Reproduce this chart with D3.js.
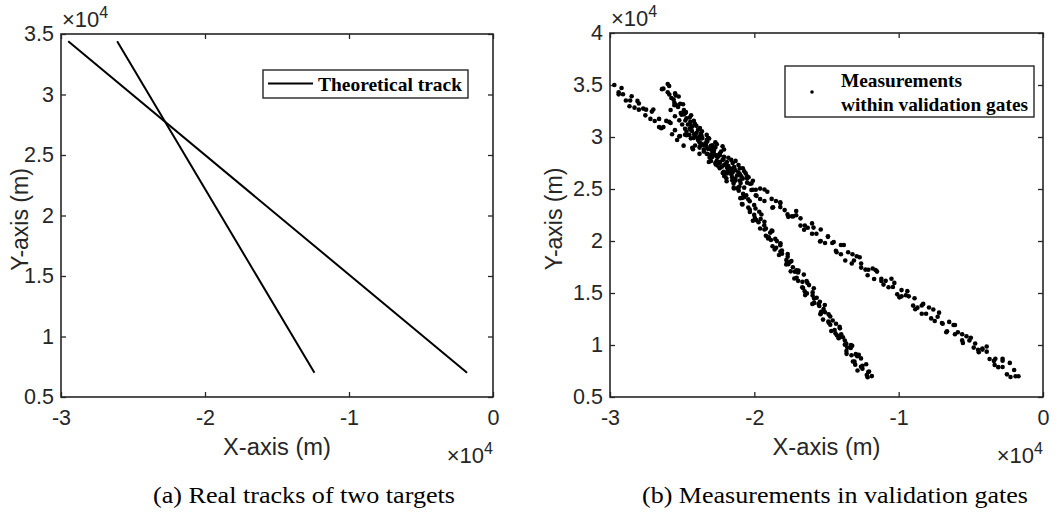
<!DOCTYPE html>
<html>
<head>
<meta charset="utf-8">
<script src="https://cdn.jsdelivr.net/npm/d3@7"></script>
<style>
  body { margin: 0; background: #fff; }
  .tick text { font-family: "Liberation Sans", Arial, sans-serif; font-size: 21.5px; fill: #262626; }
  .tick line { stroke: #262626; stroke-width: 1.3; }
  .domain { display: none; }
</style>
</head>
<body>
<div id="chart"></div>
<script>
// all positions in units of 10^4 m, as on the axes
const xTicks = [-3, -2, -1, 0];
const yTicksA = [0.5, 1, 1.5, 2, 2.5, 3, 3.5];
const yTicksB = [0.5, 1, 1.5, 2, 2.5, 3, 3.5, 4];

// (a) theoretical tracks, start / end points
const track1 = [[-2.95, 3.44], [-0.18, 0.70]];
const track2 = [[-2.61, 3.44], [-1.24, 0.70]];

// (b) measurements that fell inside the validation gates
const gateTrack1 = [
  [-2.970, 3.500], [-2.940, 3.410], [-2.940, 3.431], [-2.890, 3.351], [-2.910, 3.411], [-2.860, 3.351], [-2.850, 3.392],
  [-2.830, 3.282], [-2.800, 3.322], [-2.800, 3.263], [-2.750, 3.263], [-2.770, 3.273], [-2.720, 3.174], [-2.710, 3.244],
  [-2.690, 3.154], [-2.660, 3.174], [-2.660, 3.095], [-2.610, 3.155], [-2.630, 3.095], [-2.580, 3.135], [-2.570, 3.026],
  [-2.550, 3.066], [-2.520, 3.006], [-2.515, 3.010], [-2.470, 3.017], [-2.490, 2.917], [-2.440, 2.987], [-2.430, 2.897],
  [-2.410, 2.918], [-2.380, 2.838], [-2.380, 2.898], [-2.330, 2.839], [-2.350, 2.879], [-2.300, 2.769], [-2.290, 2.809],
  [-2.270, 2.750], [-2.240, 2.750], [-2.240, 2.760], [-2.190, 2.660], [-2.210, 2.731], [-2.160, 2.641], [-2.150, 2.661],
  [-2.130, 2.582], [-2.100, 2.642], [-2.100, 2.582], [-2.050, 2.622], [-2.070, 2.513], [-2.020, 2.553], [-2.010, 2.493],
  [-1.990, 2.493], [-1.960, 2.504], [-1.960, 2.404], [-1.910, 2.474], [-1.930, 2.384], [-1.880, 2.405], [-1.870, 2.325],
  [-1.850, 2.385], [-1.820, 2.326], [-1.820, 2.366], [-1.770, 2.256], [-1.790, 2.297], [-1.740, 2.237], [-1.730, 2.237],
  [-1.710, 2.247], [-1.680, 2.148], [-1.680, 2.218], [-1.630, 2.128], [-1.650, 2.148], [-1.600, 2.069], [-1.590, 2.129],
  [-1.570, 2.070], [-1.540, 2.110], [-1.540, 2.000], [-1.490, 2.040], [-1.510, 1.981], [-1.460, 1.981], [-1.450, 1.991],
  [-1.430, 1.892], [-1.400, 1.962], [-1.400, 1.872], [-1.350, 1.892], [-1.370, 1.813], [-1.320, 1.873], [-1.310, 1.813],
  [-1.290, 1.853], [-1.260, 1.744], [-1.260, 1.784], [-1.210, 1.724], [-1.230, 1.725], [-1.180, 1.735], [-1.170, 1.635],
  [-1.150, 1.706], [-1.120, 1.616], [-1.120, 1.636], [-1.070, 1.556], [-1.090, 1.617], [-1.040, 1.557], [-1.030, 1.597],
  [-1.010, 1.487], [-0.980, 1.528], [-0.980, 1.468], [-0.930, 1.468], [-0.950, 1.479], [-0.900, 1.379], [-0.890, 1.449],
  [-0.870, 1.359], [-0.840, 1.380], [-0.840, 1.300], [-0.790, 1.360], [-0.810, 1.301], [-0.760, 1.341], [-0.750, 1.231],
  [-0.730, 1.271], [-0.700, 1.212], [-0.695, 1.205], [-0.650, 1.222], [-0.670, 1.123], [-0.620, 1.193], [-0.610, 1.103],
  [-0.590, 1.123], [-0.560, 1.044], [-0.560, 1.104], [-0.510, 1.044], [-0.530, 1.084], [-0.480, 0.975], [-0.470, 1.015],
  [-0.450, 0.955], [-0.420, 0.956], [-0.420, 0.966], [-0.370, 0.866], [-0.390, 0.936], [-0.340, 0.847], [-0.330, 0.867],
  [-0.310, 0.787], [-0.280, 0.848], [-0.280, 0.788], [-0.230, 0.828], [-0.250, 0.718], [-0.200, 0.759], [-0.190, 0.699],
  [-0.170, 0.699],
  // wider part of the gate
  [-2.920, 3.471], [-2.865, 3.296], [-2.810, 3.347], [-2.755, 3.208], [-2.700, 3.264], [-2.645, 3.085], [-2.590, 3.145],
  [-2.535, 2.971], [-2.480, 3.022], [-2.425, 2.883], [-2.370, 2.938], [-2.315, 2.759], [-2.260, 2.820], [-2.205, 2.646],
  [-2.150, 2.697], [-2.095, 2.557], [-2.040, 2.613], [-1.985, 2.434], [-1.930, 2.495], [-1.875, 2.320], [-1.820, 2.371],
  [-1.765, 2.232], [-1.710, 2.288], [-1.655, 2.108], [-1.600, 2.169], [-1.545, 1.995], [-1.490, 2.046], [-1.435, 1.906],
  [-1.380, 1.962], [-1.325, 1.783], [-1.270, 1.844], [-1.215, 1.670], [-1.160, 1.720], [-1.105, 1.581], [-1.050, 1.637],
  [-0.995, 1.458], [-0.940, 1.518], [-0.885, 1.344], [-0.830, 1.395], [-0.775, 1.256], [-0.720, 1.311], [-0.665, 1.132],
  [-0.610, 1.193], [-0.555, 1.019], [-0.500, 1.069], [-0.445, 0.930], [-0.390, 0.986], [-0.335, 0.807], [-0.280, 0.868],
  [-0.225, 0.693]
];

const gateTrack2 = [
  [-2.600, 3.510], [-2.640, 3.460], [-2.590, 3.490], [-2.600, 3.430], [-2.549, 3.419], [-2.589, 3.409], [-2.559, 3.359],
  [-2.524, 3.389], [-2.554, 3.329], [-2.514, 3.319], [-2.544, 3.309], [-2.488, 3.258], [-2.528, 3.288], [-2.478, 3.228],
  [-2.488, 3.218], [-2.438, 3.208], [-2.478, 3.158], [-2.448, 3.188], [-2.412, 3.127], [-2.442, 3.117], [-2.402, 3.107],
  [-2.432, 3.057], [-2.377, 3.087], [-2.417, 3.027], [-2.367, 3.017], [-2.377, 3.007], [-2.326, 2.956], [-2.366, 2.986],
  [-2.336, 2.926], [-2.301, 2.916], [-2.331, 2.906], [-2.291, 2.856], [-2.321, 2.886], [-2.265, 2.825], [-2.305, 2.815],
  [-2.255, 2.805], [-2.265, 2.755], [-2.215, 2.785], [-2.255, 2.725], [-2.225, 2.715], [-2.189, 2.704], [-2.219, 2.654],
  [-2.179, 2.684], [-2.209, 2.624], [-2.154, 2.614], [-2.194, 2.604], [-2.144, 2.554], [-2.153, 2.583], [-2.103, 2.523],
  [-2.143, 2.513], [-2.113, 2.503], [-2.078, 2.453], [-2.108, 2.483], [-2.068, 2.423], [-2.097, 2.412], [-2.042, 2.402],
  [-2.082, 2.352], [-2.032, 2.382], [-2.042, 2.322], [-1.992, 2.312], [-2.032, 2.302], [-2.001, 2.251], [-1.966, 2.281],
  [-1.996, 2.221], [-1.956, 2.211], [-1.986, 2.201], [-1.931, 2.151], [-1.971, 2.181], [-1.920, 2.120], [-1.930, 2.110],
  [-1.880, 2.100], [-1.920, 2.050], [-1.890, 2.080], [-1.855, 2.020], [-1.885, 2.010], [-1.844, 1.999], [-1.874, 1.949],
  [-1.819, 1.979], [-1.859, 1.919], [-1.809, 1.909], [-1.819, 1.899], [-1.769, 1.849], [-1.808, 1.878], [-1.778, 1.818],
  [-1.743, 1.808], [-1.773, 1.798], [-1.733, 1.748], [-1.763, 1.778], [-1.708, 1.718], [-1.748, 1.708], [-1.697, 1.697],
  [-1.707, 1.647], [-1.657, 1.677], [-1.697, 1.617], [-1.667, 1.607], [-1.632, 1.597], [-1.662, 1.547], [-1.621, 1.576],
  [-1.651, 1.516], [-1.596, 1.506], [-1.636, 1.496], [-1.586, 1.446], [-1.596, 1.476], [-1.546, 1.416], [-1.585, 1.405],
  [-1.555, 1.395], [-1.520, 1.345], [-1.550, 1.375], [-1.510, 1.315], [-1.540, 1.305], [-1.485, 1.294], [-1.524, 1.244],
  [-1.474, 1.274], [-1.484, 1.214], [-1.434, 1.204], [-1.474, 1.194], [-1.444, 1.144], [-1.409, 1.174], [-1.438, 1.113],
  [-1.398, 1.103], [-1.428, 1.093], [-1.373, 1.043], [-1.413, 1.073], [-1.363, 1.013], [-1.373, 1.003], [-1.322, 0.992],
  [-1.362, 0.942], [-1.332, 0.972], [-1.297, 0.912], [-1.327, 0.902], [-1.287, 0.892], [-1.317, 0.842], [-1.261, 0.871],
  [-1.301, 0.811], [-1.251, 0.801], [-1.261, 0.791], [-1.211, 0.741], [-1.251, 0.771], [-1.221, 0.711], [-1.186, 0.701],
  [-1.215, 0.690],
  // wider part of the gate
  [-2.630, 3.465], [-2.545, 3.400], [-2.575, 3.375], [-2.494, 3.315], [-2.554, 3.305], [-2.474, 3.240], [-2.504, 3.215],
  [-2.419, 3.155], [-2.444, 3.145], [-2.449, 3.080], [-2.363, 3.055], [-2.393, 2.995], [-2.313, 2.985], [-2.373, 2.920],
  [-2.293, 2.895], [-2.323, 2.835], [-2.238, 2.825], [-2.262, 2.760], [-2.267, 2.735], [-2.182, 2.675], [-2.212, 2.665],
  [-2.132, 2.600], [-2.192, 2.575], [-2.112, 2.515], [-2.141, 2.505], [-2.056, 2.440], [-2.081, 2.415], [-2.086, 2.355],
  [-2.001, 2.345], [-2.031, 2.280], [-1.951, 2.255], [-2.010, 2.195], [-1.930, 2.185], [-1.960, 2.120], [-1.875, 2.095],
  [-1.900, 2.035], [-1.905, 2.025], [-1.820, 1.960], [-1.849, 1.935], [-1.769, 1.875], [-1.829, 1.865], [-1.749, 1.800],
  [-1.779, 1.775], [-1.694, 1.715], [-1.719, 1.705], [-1.723, 1.640], [-1.638, 1.615], [-1.668, 1.555], [-1.588, 1.545],
  [-1.648, 1.480], [-1.568, 1.455], [-1.598, 1.395], [-1.512, 1.385], [-1.537, 1.320], [-1.542, 1.295], [-1.457, 1.235],
  [-1.487, 1.225], [-1.407, 1.160], [-1.467, 1.135], [-1.386, 1.075], [-1.416, 1.065], [-1.331, 1.000], [-1.356, 0.975],
  [-1.361, 0.915], [-1.276, 0.905], [-1.306, 0.840], [-1.225, 0.815], [-1.285, 0.755], [-1.205, 0.745]
];

// clutter near the crossing, where both gates overlap
const gateClutter = [
  [-2.42, 2.99], [-2.38, 2.95], [-2.35, 2.92], [-2.33, 2.97], [-2.30, 2.88], [-2.28, 2.84], [-2.27, 2.90], [-2.25, 2.82],
  [-2.23, 2.86], [-2.22, 2.78], [-2.20, 2.74], [-2.18, 2.80], [-2.17, 2.70], [-2.15, 2.75], [-2.13, 2.68], [-2.12, 2.63],
  [-2.10, 2.70], [-2.08, 2.60], [-2.06, 2.65], [-2.05, 2.56], [-2.40, 3.04], [-2.45, 3.02], [-2.36, 2.99], [-2.31, 2.80],
  [-2.26, 2.77], [-2.19, 2.65], [-2.14, 2.58], [-2.48, 3.08], [-2.50, 3.12], [-2.44, 3.07], [-2.02, 2.49], [-1.99, 2.44],
  [-2.47, 3.05], [-2.43, 3.10], [-2.41, 3.01], [-2.39, 2.97], [-2.37, 3.03], [-2.34, 2.94], [-2.32, 2.99], [-2.29, 2.92],
  [-2.28, 2.87], [-2.26, 2.93], [-2.24, 2.84], [-2.21, 2.88], [-2.21, 2.81], [-2.19, 2.76], [-2.18, 2.72], [-2.16, 2.78],
  [-2.14, 2.71], [-2.11, 2.73], [-2.11, 2.66], [-2.09, 2.62], [-2.07, 2.67], [-2.05, 2.60], [-2.03, 2.55], [-2.01, 2.58],
  [-2.46, 3.12], [-2.52, 3.16], [-2.55, 3.20], [-2.51, 3.23], [-2.47, 3.18], [-2.58, 3.26], [-2.35, 2.86], [-2.30, 2.83],
  [-2.24, 2.70], [-2.16, 2.66], [-2.39, 3.07], [-2.33, 3.02], [-2.27, 2.95], [-2.22, 2.91], [-2.13, 2.77], [-2.08, 2.70]
];

const fontSans = '"Liberation Sans", Arial, sans-serif';
const fontSerif = '"Liberation Serif", "Times New Roman", serif';

function panel(svg, o) {
  const x = d3.scaleLinear().domain([-3, 0]).range([o.left, o.right]);
  const y = d3.scaleLinear().domain(o.yDomain).range([o.bottom, o.top]);
  const g = svg.append("g");

  g.append("g")
    .attr("transform", `translate(0,${o.bottom})`)
    .call(d3.axisBottom(x).tickValues(xTicks).tickSizeInner(-5).tickSizeOuter(0)
      .tickPadding(13).tickFormat((d) => String(d)));
  g.append("g")
    .attr("transform", `translate(0,${o.top})`)
    .call(d3.axisTop(x).tickValues(xTicks).tickSizeInner(-5).tickSizeOuter(0).tickFormat(""));
  g.append("g")
    .attr("transform", `translate(${o.left},0)`)
    .call(d3.axisLeft(y).tickValues(o.yTicks).tickSizeInner(-5).tickSizeOuter(0)
      .tickPadding(7).tickFormat((d) => String(d)));
  g.append("g")
    .attr("transform", `translate(${o.right},0)`)
    .call(d3.axisRight(y).tickValues(o.yTicks).tickSizeInner(-5).tickSizeOuter(0).tickFormat(""));

  // box
  g.append("rect")
    .attr("x", o.left).attr("y", o.top)
    .attr("width", o.right - o.left).attr("height", o.bottom - o.top)
    .attr("fill", "none").attr("stroke", "#262626").attr("stroke-width", 1.6);

  // exponent labels
  const e1 = g.append("text").attr("x", o.left + 1).attr("y", o.top - 7)
    .attr("font-family", fontSans).attr("font-size", 22).attr("fill", "#262626");
  e1.append("tspan").text("×10");
  e1.append("tspan").attr("font-size", 16).attr("dy", -9).text("4");
  const e2 = g.append("text").attr("x", o.right).attr("y", 463).attr("text-anchor", "end")
    .attr("font-family", fontSans).attr("font-size", 22).attr("fill", "#262626");
  e2.append("tspan").text("×10");
  e2.append("tspan").attr("font-size", 16).attr("dy", -9).text("4");

  // axis titles
  g.append("text")
    .attr("x", (o.left + o.right) / 2).attr("y", 455)
    .attr("text-anchor", "middle")
    .attr("font-family", fontSans).attr("font-size", 23).attr("fill", "#262626")
    .attr("textLength", 108).attr("lengthAdjust", "spacingAndGlyphs")
    .text("X-axis (m)");
  g.append("text")
    .attr("transform", `translate(${o.ylabelX},${(o.top + o.bottom) / 2 + 4}) rotate(-90)`)
    .attr("text-anchor", "middle")
    .attr("font-family", fontSans).attr("font-size", 23).attr("fill", "#262626")
    .text("Y-axis (m)");

  // caption
  svg.append("text")
    .attr("x", o.captionX).attr("y", 503)
    .attr("text-anchor", "middle")
    .attr("font-family", fontSerif).attr("font-size", 23).attr("fill", "#000")
    .attr("textLength", o.captionLen).attr("lengthAdjust", "spacingAndGlyphs")
    .text(o.caption);

  return { x, y, g };
}

function init() {
  const width = 1064, height = 513;
  const svg = d3.select("#chart").append("svg")
    .attr("width", width).attr("height", height);

  // (a)
  const a = panel(svg, {
    left: 61, right: 493, top: 34, bottom: 397,
    yDomain: [0.5, 3.5], yTicks: yTicksA, ylabelX: 28,
    captionX: 304, captionLen: 302, caption: "(a) Real tracks of two targets"
  });
  const line = d3.line().x((d) => a.x(d[0])).y((d) => a.y(d[1]));
  a.g.selectAll("path.track")
    .data([track1, track2])
    .join("path")
    .attr("class", "track")
    .attr("d", line)
    .attr("fill", "none").attr("stroke", "#000").attr("stroke-width", 2);

  const legA = a.g.append("g");
  legA.append("rect").attr("x", 263).attr("y", 70).attr("width", 205).attr("height", 28)
    .attr("fill", "#fff").attr("stroke", "#262626").attr("stroke-width", 1.4);
  legA.append("line").attr("x1", 268).attr("x2", 313).attr("y1", 83.5).attr("y2", 83.5)
    .attr("stroke", "#000").attr("stroke-width", 2);
  legA.append("text").attr("x", 318).attr("y", 91)
    .attr("font-family", fontSerif).attr("font-weight", "bold").attr("font-size", 19)
    .attr("textLength", 144).attr("lengthAdjust", "spacingAndGlyphs")
    .text("Theoretical track");

  // (b)
  const b = panel(svg, {
    left: 610, right: 1043, top: 33, bottom: 397,
    yDomain: [0.5, 4], yTicks: yTicksB, ylabelX: 562,
    captionX: 835, captionLen: 386, caption: "(b) Measurements in validation gates"
  });
  b.g.append("g")
    .selectAll("circle")
    .data(gateTrack1.concat(gateTrack2, gateClutter))
    .join("circle")
    .attr("cx", (d) => b.x(d[0]))
    .attr("cy", (d) => b.y(d[1]))
    .attr("r", 2.3)
    .attr("fill", "#000");

  const legB = b.g.append("g");
  legB.append("rect").attr("x", 785).attr("y", 66).attr("width", 249).attr("height", 51)
    .attr("fill", "#fff").attr("stroke", "#262626").attr("stroke-width", 1.4);
  legB.append("circle").attr("cx", 812).attr("cy", 92).attr("r", 1.8).attr("fill", "#000");
  const lt = legB.append("g")
    .attr("font-family", fontSerif).attr("font-weight", "bold").attr("font-size", 19);
  lt.append("text").attr("x", 841).attr("y", 87)
    .attr("textLength", 121).attr("lengthAdjust", "spacingAndGlyphs").text("Measurements");
  lt.append("text").attr("x", 841).attr("y", 111)
    .attr("textLength", 187).attr("lengthAdjust", "spacingAndGlyphs").text("within validation gates");
}

window.addEventListener("load", init);
</script>
</body>
</html>
